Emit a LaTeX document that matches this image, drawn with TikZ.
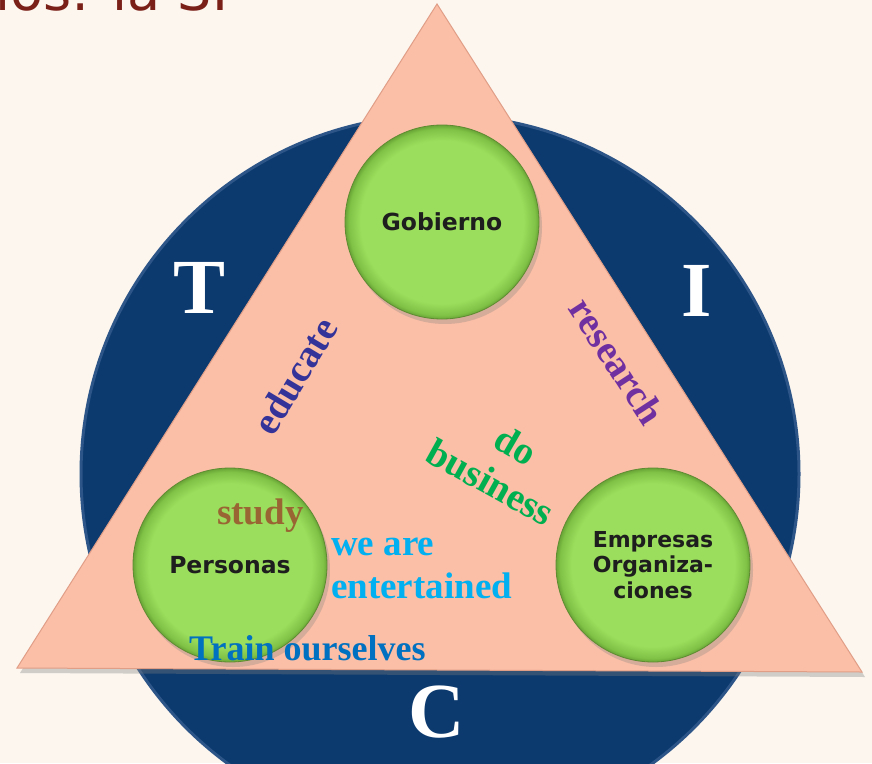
\documentclass[tikz,border=0pt]{standalone}
\usepackage{fontspec}
\setmainfont{Liberation Serif}
\newfontfamily\labfont{DejaVu Sans}
\usetikzlibrary{shadows}
\definecolor{bgc}{RGB}{252,246,239}
\definecolor{navy}{RGB}{12,58,111}
\definecolor{navyedge}{RGB}{45,85,135}
\definecolor{trifill}{RGB}{251,190,166}
\definecolor{triedge}{RGB}{225,158,135}
\definecolor{gmain}{RGB}{155,221,92}
\definecolor{gedge}{RGB}{128,194,70}
\definecolor{gedgeb}{RGB}{105,165,55}
\definecolor{gline}{RGB}{95,140,50}
\definecolor{textdark}{RGB}{30,30,30}
\definecolor{titlered}{RGB}{122,32,24}
\definecolor{educ}{RGB}{51,51,153}
\definecolor{resc}{RGB}{112,48,160}
\definecolor{busc}{RGB}{0,176,80}
\definecolor{studc}{RGB}{153,102,51}
\definecolor{entc}{RGB}{0,176,240}
\definecolor{trainc}{RGB}{0,112,192}
\pgfdeclareradialshading{greenball}{\pgfpoint{0bp}{0bp}}{color(0bp)=(gmain); color(21bp)=(gmain); color(24bp)=(gedge); color(25bp)=(gedgeb); color(50bp)=(gedgeb)}
\tikzset{
  ball/.style={circle, minimum size=194pt, inner sep=0pt, shade, shading=greenball,
    draw=gline, line width=0.8pt,
    drop shadow={shadow xshift=3pt, shadow yshift=-5pt, opacity=0.3},
    font=\labfont\bfseries\fontsize{23.5}{25.5}\selectfont, text=textdark, align=center},
  letter/.style={inner sep=0pt, text=white, font=\bfseries\fontsize{78}{80}\selectfont},
  verb/.style={inner sep=0pt, font=\bfseries\fontsize{39}{40}\selectfont},
  tri/.style={fill=trifill, draw=triedge, line width=1pt,
    drop shadow={shadow xshift=3pt, shadow yshift=-5pt, opacity=0.35}}
}
\begin{document}
\begin{tikzpicture}[x=1pt,y=-1pt]
\useasboundingbox (0,0) rectangle (872,763);
\fill[bgc] (0,0) rectangle (872,763);
% title fragment
\node[anchor=base west, inner sep=0pt, text=titlered, font=\labfont\fontsize{54}{54}\selectfont] (title) at (-5,10) {ios: la SI};
% big circle
\draw[fill=navy, draw=navyedge, line width=3pt] (440,474) circle (359);
% letters
\node[letter] (T) at (200,288) {T};
\node[letter] (I) at (697,291) {I};
\node[letter] (C) at (437,712) {C};
% triangle
\path[tri] (437,4) -- (17,668) -- (862,672) -- cycle;
% balls
\node[ball] (gob) at (442,222) {Gobierno};
\node[ball] (per) at (230,565) {Personas};
\node[ball, font=\labfont\bfseries\fontsize{22}{25.5}\selectfont] (emp) at (653,565) {Empresas\\Organiza-\\ciones};
% verbs
\node[verb, text=educ, rotate=59] (edu) at (295,376) {educate};
\node[verb, text=resc, rotate=-57] (res) at (617,361) {research};
\node[verb, text=busc, rotate=-30] (do) at (516,445) {do};
\node[verb, text=busc, rotate=-29] (bus) at (491,482) {business};
\node[verb, text=studc, anchor=base west, font=\bfseries\fontsize{37}{40}\selectfont] (stu) at (217,524) {study};
\node[verb, text=entc, anchor=base west, font=\bfseries\fontsize{37}{40}\selectfont] (we) at (331,555) {we are};
\node[verb, text=entc, anchor=base west, font=\bfseries\fontsize{37}{40}\selectfont] (ent) at (331,598) {entertained};
\node[verb, text=trainc, anchor=base west, font=\bfseries\fontsize{36}{40}\selectfont] (tra) at (189,660) {Train ourselves};
\end{tikzpicture}
\end{document}
